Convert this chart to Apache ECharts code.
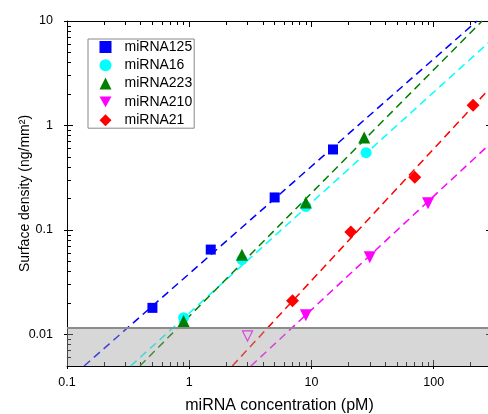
<!DOCTYPE html>
<html>
<head>
<meta charset="utf-8">
<script src="https://cdn.jsdelivr.net/npm/echarts@6/dist/echarts.min.js"></script>
<style>
  html, body { margin: 0; padding: 0; background: #fff; }
  #chart { width: 488px; height: 414px; }
</style>
</head>
<body>
<div id="chart"></div>
<script>
// measured points (concentration pM, surface density ng/mm2)
const names = ['miRNA125', 'miRNA16', 'miRNA223', 'miRNA210', 'miRNA21'];
const colors = ['#0000ff', '#00ffff', '#008000', '#ff00ff', '#ff0000'];

const conc125 = [0.5, 1.5, 5, 15];
const dens125 = [0.018, 0.065, 0.205, 0.59];
const conc16 = [0.9, 2.7, 9, 28];
const dens16 = [0.0145, 0.052, 0.168, 0.55];
const conc223 = [0.9, 2.7, 9, 27];
const dens223 = [0.0135, 0.058, 0.183, 0.77];
const conc210 = [9, 30, 90];
const dens210 = [0.0153, 0.055, 0.18];
const conc210open = [3];
const dens210open = [0.0097];
const conc21 = [7, 21, 70, 210];
const dens21 = [0.021, 0.096, 0.32, 1.56];

// dashed fit lines, end points
const fit125 = [[0.138, 0.005], [226, 10]];
const fit16 = [[0.332, 0.005], [300, 6.65]];
const fit223 = [[0.395, 0.005], [249, 10]];
const fit210 = [[3.2, 0.005], [300, 0.695]];
const fit21 = [[2.25, 0.005], [300, 2.39]];

// detection limit band
const bandLow = 0.005;
const bandHigh = 0.0115;

// axes
const xMin = 0.1, xMax = 300;
const yMin = 0.005, yMax = 10;
const xMajor = [0.1, 1, 10, 100];
const yMajor = [0.01, 0.1, 1, 10];
const xMinor = [0.2, 0.3, 0.4, 0.5, 0.6, 0.7, 0.8, 0.9, 2, 3, 4, 5, 6, 7, 8, 9,
  20, 30, 40, 50, 60, 70, 80, 90, 200];
const yMinor = [0.006, 0.007, 0.008, 0.009, 0.02, 0.03, 0.04, 0.05, 0.06, 0.07, 0.08, 0.09,
  0.2, 0.3, 0.4, 0.5, 0.6, 0.7, 0.8, 0.9, 2, 3, 4, 5, 6, 7, 8, 9];

const font = 'Liberation Sans, Arial, sans-serif';

function zip(xs, ys) {
    return xs.map(function (x, i) { return [x, ys[i]]; });
}

let chartDom = document.getElementById('chart');
let myChart = echarts.init(chartDom, null, { renderer: 'canvas' });

function tickAxis(dim, position, values, len, inside, withLine, withLabel) {
    let ax = {
        type: 'log',
        min: dim === 'x' ? xMin : yMin,
        max: dim === 'x' ? xMax : yMax,
        position: position,
        axisLine: { show: withLine, lineStyle: { color: '#000', width: 1 } },
        axisTick: {
            show: true,
            inside: inside,
            length: len,
            customValues: values,
            lineStyle: { color: '#000', width: 1 }
        },
        axisLabel: { show: false },
        splitLine: { show: false },
        minorTick: { show: false },
        silent: true
    };
    if (withLabel) {
        ax.axisLabel = {
            show: true,
            customValues: dim === 'x' ? xMajor : yMajor,
            color: '#000',
            fontFamily: font,
            fontSize: 12.5,
            margin: dim === 'x' ? 10 : 14
        };
    }
    return ax;
}

let xMain = tickAxis('x', 'bottom', xMajor, 3, false, true, true);
xMain.name = 'miRNA concentration (pM)';
xMain.nameLocation = 'middle';
xMain.nameGap = 32;
xMain.nameMoveOverlap = false;
xMain.nameTextStyle = { color: '#000', fontFamily: font, fontSize: 16 };

let yMain = tickAxis('y', 'left', yMajor, 3, false, true, true);
yMain.name = 'Surface density (ng/mm²)';
yMain.nameLocation = 'middle';
yMain.nameGap = 35;
yMain.nameMoveOverlap = false;
yMain.nameTextStyle = { color: '#000', fontFamily: font, fontSize: 14 };

let symbols = ['rect', 'circle', 'triangle', 'path://M0,0 L10,0 L5,9 Z', 'diamond'];
let sizes = [10, 11, 12, 12, 13];
let pointSets = [
    zip(conc125, dens125), zip(conc16, dens16), zip(conc223, dens223),
    zip(conc210, dens210), zip(conc21, dens21)
];
let fits = [fit125, fit16, fit223, fit210, fit21];

let series = [];
fits.forEach(function (f, i) {
    series.push({
        name: names[i] + ' fit',
        type: 'line',
        data: f,
        showSymbol: false,
        silent: true,
        z: 2,
        lineStyle: { color: colors[i], width: 1.5, type: [8, 5] }
    });
});
pointSets.forEach(function (p, i) {
    series.push({
        name: names[i],
        type: 'scatter',
        data: p,
        symbol: symbols[i],
        symbolSize: sizes[i],
        z: 3,
        itemStyle: { color: colors[i], opacity: 1 }
    });
});
series.push({
    name: 'miRNA210 below limit',
    type: 'scatter',
    data: zip(conc210open, dens210open),
    symbol: symbols[3],
    symbolSize: 10,
    z: 3,
    itemStyle: { color: 'rgba(0,0,0,0)', borderColor: colors[3], borderWidth: 1.2, opacity: 1 }
});
// gray band for the detection limit, laid over the lines
series.push({
    name: 'limit',
    type: 'line',
    data: [],
    z: 5,
    silent: true,
    markArea: {
        silent: true,
        z: 6,
        itemStyle: { color: 'rgba(160,160,160,0.42)', borderWidth: 0 },
        data: [[{ yAxis: bandLow }, { yAxis: bandHigh }]]
    },
    markLine: {
        silent: true,
        z: 7,
        precision: 6,
        symbol: 'none',
        label: { show: false },
        lineStyle: { color: '#8c8c8c', width: 2, type: 'solid' },
        data: [{ yAxis: bandHigh }]
    }
});

let option = {
    backgroundColor: '#fff',
    animation: false,
    grid: {
        left: 67,
        top: 21,
        width: 425,
        height: 345,
        outerBoundsMode: 'none',
        containLabel: false
    },
    legend: {
        data: names,
        orient: 'vertical',
        left: 88,
        top: 39,
        itemWidth: 12,
        itemHeight: 12,
        itemGap: 4.3,
        padding: [1, 2, 1, 11.5],
        borderColor: '#888',
        borderWidth: 1,
        borderRadius: 0,
        backgroundColor: '#fff',
        selectedMode: false,
        textStyle: { color: '#000', fontFamily: font, fontSize: 14, padding: [0, 0, 0, 8] }
    },
    xAxis: [
        xMain,
        tickAxis('x', 'bottom', xMajor, 6, true, false, false),
        tickAxis('x', 'bottom', xMinor, 4, true, false, false),
        tickAxis('x', 'top', xMajor, 6, true, true, false),
        tickAxis('x', 'top', xMinor, 4, true, false, false)
    ],
    yAxis: [
        yMain,
        tickAxis('y', 'left', yMajor, 6, true, false, false),
        tickAxis('y', 'left', yMinor, 4, true, false, false),
        tickAxis('y', 'right', yMajor, 6, true, true, false),
        tickAxis('y', 'right', yMinor, 4, true, false, false)
    ],
    series: series
};

option && myChart.setOption(option);
</script>
</body>
</html>
